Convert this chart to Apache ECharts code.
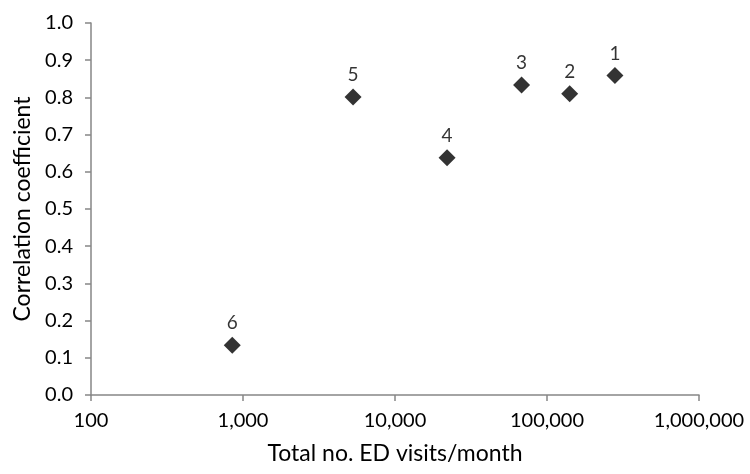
<!DOCTYPE html>
<html><head><meta charset="utf-8">
<script src="https://cdn.jsdelivr.net/npm/echarts@6/dist/echarts.min.js"></script>
<style>html,body{margin:0;padding:0;background:#fff}#c{width:750px;height:474px}</style>
</head><body><div id="c"></div>
<script>
const siteLabels = ['1','2','3','4','5','6'];
const visits = [280000, 141000, 68000, 22000, 5300, 850];
const correlation = [0.859, 0.810, 0.833, 0.638, 0.801, 0.134];
const xTicks = [100, 1000, 10000, 100000, 1000000];
const yTicks = [0,0.1,0.2,0.3,0.4,0.5,0.6,0.7,0.8,0.9,1.0];

const font = 'Lato, "Open Sans", sans-serif';
const chart = echarts.init(document.getElementById('c'));
chart.setOption({
  animation:false,
  grid:{left:91, right:51, top:23, bottom:79},
  xAxis:{
    type:'log', logBase:10, min:xTicks[0], max:xTicks[xTicks.length-1],
    name:'Total no. ED visits/month', nameLocation:'middle', nameGap:47,
    nameTextStyle:{fontFamily:font, fontSize:23, color:'#000'},
    axisLine:{lineStyle:{color:'#868686', width:1.5}},
    axisTick:{show:true, length:6, lineStyle:{color:'#868686', width:1.5}},
    axisLabel:{fontFamily:font, fontSize:20, color:'#000', margin:16,
      formatter:v=>Number(v).toLocaleString('en-US')},
    splitLine:{show:false}, minorTick:{show:false}
  },
  yAxis:{
    type:'value', min:yTicks[0], max:yTicks[yTicks.length-1], interval:0.1,
    name:'Correlation coefficient', nameLocation:'middle', nameGap:57,
    nameTextStyle:{fontFamily:font, fontSize:23, color:'#000'},
    axisLine:{show:true, lineStyle:{color:'#868686', width:1.5}},
    axisTick:{show:true, length:6, lineStyle:{color:'#868686', width:1.5}},
    axisLabel:{fontFamily:font, fontSize:20, color:'#000', margin:18,
      formatter:v=>v.toFixed(1)},
    splitLine:{show:false}
  },
  series:[{
    type:'scatter', symbol:'diamond', symbolSize:17,
    itemStyle:{color:'#000'},
    label:{show:true, position:'top', distance:4, fontFamily:font, fontSize:19, color:'#000',
      formatter:p=>siteLabels[p.dataIndex]},
    data: visits.map((v,i)=>[v, correlation[i]])
  }]
});
</script></body></html>
